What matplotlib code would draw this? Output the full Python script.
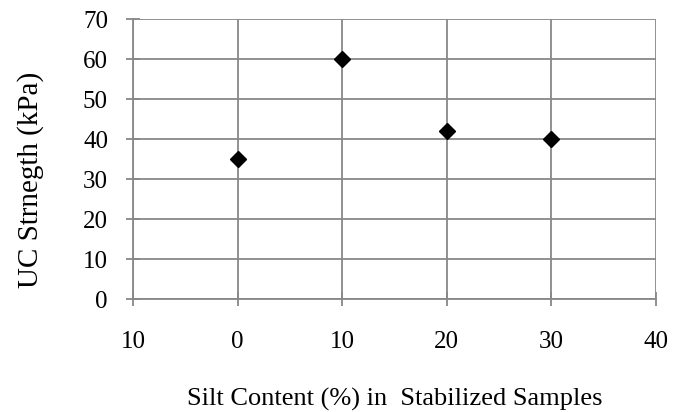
import matplotlib.pyplot as plt

silt = [0, 10, 20, 30]
strength = [35, 60, 42, 40]
xticks = [-10, 0, 10, 20, 30, 40]
xticklabels = ['10', '0', '10', '20', '30', '40']
yticks = [0, 10, 20, 30, 40, 50, 60, 70]

plt.rcParams['font.family'] = 'Liberation Serif'

fig = plt.figure(figsize=(6.73, 4.12), dpi=100)
ax = fig.add_axes([133/673, 1 - 299/412, (656-133)/673, (299-19)/412])

ax.plot(silt, strength, linestyle='none', marker='D', markersize=8.5, color='black')

ax.set_xlim(-10, 40)
ax.set_ylim(0, 70)
ax.set_xticks(xticks)
ax.set_xticklabels(xticklabels)
ax.set_yticks(yticks)
ax.grid(True, color='#888888', linewidth=1.3)
ax.set_axisbelow(True)
for s in ax.spines.values():
    s.set_color('#888888')
    s.set_linewidth(1.3)
ax.spines['top'].set_visible(False)
ax.spines['right'].set_visible(False)
ax.tick_params(axis='both', direction='inout', length=10, width=1.3, color='#888888', labelsize=18)
ax.tick_params(axis='x', pad=18)
ax.tick_params(axis='y', pad=13)

ax.set_xlabel('Silt Content (%) in  Stabilized Samples', fontsize=19, labelpad=25)
ax.set_ylabel('UC Strnegth (kPa)', fontsize=21)
ax.yaxis.set_label_coords(-0.17, 0.425)

fig.savefig('out.png', dpi=100)
